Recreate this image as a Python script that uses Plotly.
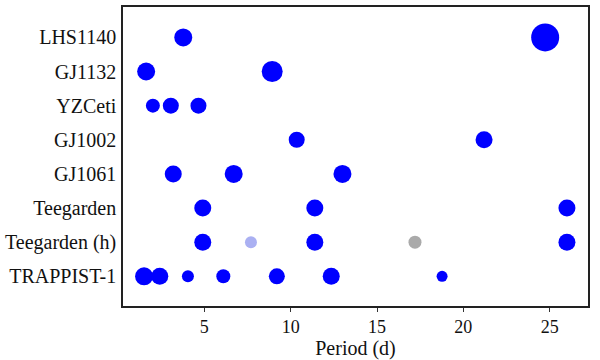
import plotly.graph_objects as go

systems = ["TRAPPIST-1", "Teegarden (h)", "Teegarden", "GJ1061", "GJ1002", "YZCeti", "GJ1132", "LHS1140"]

lhs1140_p = [3.78, 24.74]
lhs1140_s = [18, 28]
gj1132_p = [1.63, 8.93]
gj1132_s = [18, 21]
yzceti_p = [2.02, 3.06, 4.66]
yzceti_s = [14, 16, 16]
gj1002_p = [10.35, 21.2]
gj1002_s = [16, 17]
gj1061_p = [3.2, 6.7, 13.0]
gj1061_s = [17, 18, 18]
teeg_p = [4.91, 11.4, 26.0]
teeg_s = [17, 17, 17]
teegh_p = [4.91, 7.7, 11.4, 17.2, 26.0]
teegh_s = [17, 12, 17, 13, 17]
teegh_c = ["#0000ff", "#aab0f2", "#0000ff", "#aaaaaa", "#0000ff"]
trappist_p = [1.51, 2.42, 4.05, 6.1, 9.2, 12.35, 18.77]
trappist_s = [18, 17, 12, 14, 16, 17, 11]

BLUE = "#0000ff"

rows = [
    ("LHS1140", lhs1140_p, lhs1140_s, None),
    ("GJ1132", gj1132_p, gj1132_s, None),
    ("YZCeti", yzceti_p, yzceti_s, None),
    ("GJ1002", gj1002_p, gj1002_s, None),
    ("GJ1061", gj1061_p, gj1061_s, None),
    ("Teegarden", teeg_p, teeg_s, None),
    ("Teegarden (h)", teegh_p, teegh_s, teegh_c),
    ("TRAPPIST-1", trappist_p, trappist_s, None),
]

fig = go.Figure()
for name, p, s, c in rows:
    cols = c if c is not None else [BLUE] * len(p)
    fig.add_trace(go.Scatter(
        x=p, y=[name] * len(p), mode="markers",
        marker=dict(size=s, color=cols, opacity=1, line=dict(width=0)),
        showlegend=False, hoverinfo="x+y",
    ))

font = dict(family="Liberation Serif, Times New Roman, serif", size=20, color="#111111")

fig.update_layout(
    width=600, height=360,
    margin=dict(l=121, r=12, t=5, b=52),
    paper_bgcolor="white", plot_bgcolor="white",
    font=font,
    xaxis=dict(
        range=[0.29, 27.22], tickvals=[5, 10, 15, 20, 25],
        ticks="outside", ticklen=4, tickwidth=1.2, tickcolor="#333",
        showline=True, linecolor="#222", linewidth=1.5, mirror=True,
        showgrid=False, zeroline=False,
        title=dict(text="Period (d)", font=dict(size=20), standoff=4),
        tickfont=dict(size=18),
    ),
    yaxis=dict(
        type="category", categoryorder="array", categoryarray=systems,
        range=[-0.87, 7.89],
        showline=True, linecolor="#222", linewidth=1.5, mirror=True,
        showgrid=False, zeroline=False, ticks="",
        ticklabelstandoff=1,
        tickfont=dict(size=20),
    ),
)

fig.write_html("out.html", config={"displayModeBar": False},
               post_script="document.body.style.margin='0';document.body.style.padding='0';")
